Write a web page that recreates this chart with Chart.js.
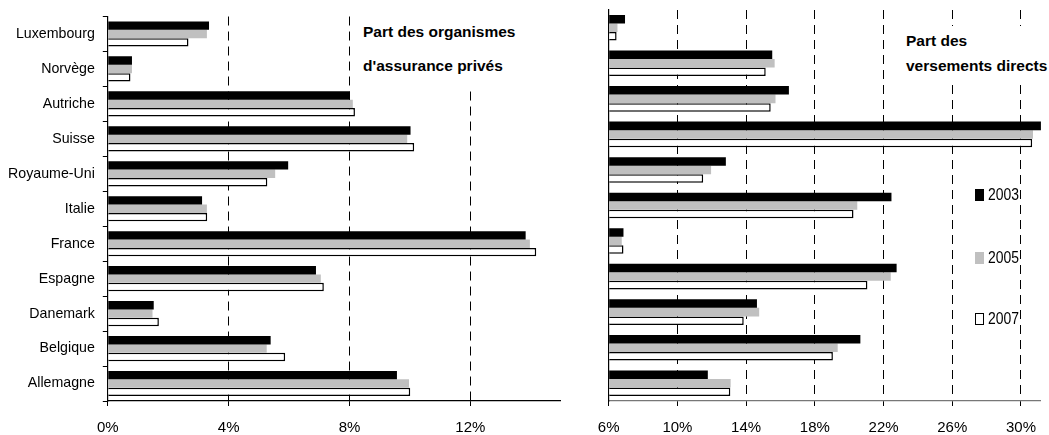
<!DOCTYPE html>
<html lang="fr">
<head>
<meta charset="utf-8">
<title>Part des organismes d'assurance privés et des versements directs</title>
<script src="https://cdn.jsdelivr.net/npm/chart.js@4/dist/chart.umd.min.js"></script>
<style>
  body { margin: 0; background: #fff; }
  #wrap {
    position: relative; width: 1049px; height: 435px; overflow: hidden;
    font-family: 'Liberation Sans', Arial, sans-serif;
  }
  #left-holder  { position: absolute; left: 0;     top: 0; }
  #right-holder { position: absolute; left: 561px; top: 0; }
  .note {
    position: absolute; background: #fff; color: #000;
    font-weight: bold; font-size: 15.5px; line-height: 18px;
  }
  .note span { position: absolute; white-space: nowrap; }
  #note-left  { left: 356px; top: 16px; width: 172px; height: 72px; }
  #note-right { left: 896px; top: 26px; width: 153px; height: 56px; }
  .leg-item {
    position: absolute; left: 975px; white-space: nowrap;
    font-size: 17px; line-height: 20px; color: #000;
  }
  .leg-item .swatch { position: absolute; left: 0; width: 9px; height: 12px; box-sizing: border-box; }
  /* the source text is a narrow face: squeeze it sideways */
  .leg-item .txt { position: absolute; left: 13px; top: 0; transform: scaleX(0.82); transform-origin: left center; }
</style>
</head>
<body>
<div id="wrap">
  <div id="left-holder"><canvas id="left-chart" width="561" height="435"></canvas></div>
  <div id="right-holder"><canvas id="right-chart" width="488" height="435"></canvas></div>

  <div class="note" id="note-left">
    <span style="left:7px; top:7px;">Part des organismes</span>
    <span style="left:7px; top:41px;">d'assurance privés</span>
  </div>
  <div class="note" id="note-right">
    <span style="left:10px; top:6px;">Part des</span>
    <span style="left:10px; top:31px;">versements directs</span>
  </div>
  <div id="legend"></div>
</div>

<script>
// — DATA —
const categories = ['Luxembourg', 'Norvège', 'Autriche', 'Suisse', 'Royaume-Uni', 'Italie',
                    'France', 'Espagne', 'Danemark', 'Belgique', 'Allemagne'];
const years = ['2003', '2005', '2007'];

// Part des organismes d'assurance privés (%)
const privateIns2003 = [3.35, 0.80, 8.01, 10.02, 5.97, 3.12, 13.83, 6.89, 1.52, 5.39, 9.57];
const privateIns2005 = [3.28, 0.80, 8.11,  9.91, 5.54, 3.28, 13.97, 7.05, 1.48, 5.26, 9.97];
const privateIns2007 = [2.67, 0.75, 8.18, 10.14, 5.28, 3.29, 14.18, 7.15, 1.69, 5.87, 10.01];

// Part des versements directs (%)
const direct2003 = [6.95, 15.52, 16.49, 31.5,  12.82, 22.46, 6.86, 22.76, 14.63, 20.65, 11.77];
const direct2005 = [6.51, 15.66, 15.71, 30.70, 11.96, 20.47, 6.76, 22.42, 14.76, 19.33, 13.10];
const direct2007 = [6.46, 15.14, 15.43, 30.65, 11.50, 20.25, 6.86, 21.06, 13.86, 19.05, 13.08];

// tick labels
const leftTicks  = [0, 4, 8, 12];
const rightTicks = [6, 10, 14, 18, 22, 26, 30];

// — STYLE —
const SANS = "'Liberation Sans', Arial, sans-serif";
const barFills = ['#000000', '#c0c0c0', '#ffffff'];

/**
 * One dataset per year; the 2007 bars are white with a black outline.
 */
function make_datasets(series, base) {
  return series.map((values, i) => ({
    label: years[i],
    data: values,
    base: base,
    backgroundColor: barFills[i],
    borderColor: '#000',
    borderWidth: i === 2 ? 1.5 : 0,
    categoryPercentage: 0.72,
    barPercentage: 1
  }));
}

/**
 * Draw one horizontal bar panel.
 */
function render_panel(canvasId, series, cfg) {
  const ctx = document.getElementById(canvasId).getContext('2d');
  return new Chart(ctx, {
    type: 'bar',
    data: { labels: categories, datasets: make_datasets(series, cfg.min) },
    options: {
      indexAxis: 'y',
      responsive: false,
      animation: false,
      layout: { padding: { top: 10, right: 0, bottom: 0, left: 0 } },
      plugins: {
        legend:  { display: false },
        tooltip: { enabled: false }
      },
      scales: {
        x: {
          min: cfg.min,
          max: cfg.max,
          afterBuildTicks: axis => { axis.ticks = cfg.ticks.map(v => ({ value: v })); },
          afterFit: axis => { axis.height = 34; },
          ticks: {
            callback: v => v + '%',
            font: { family: SANS, size: 15 },
            color: '#000',
            padding: 13,
            maxRotation: 0,
            autoSkip: false
          },
          grid: {
            color: c => c.index === 0 ? 'rgba(0,0,0,0)' : '#000',
            tickColor: '#000',
            tickLength: 5,
            lineWidth: 1
          },
          border: { display: true, color: cfg.xBorder, width: 1.2, dash: [9, 6] }
        },
        y: {
          afterFit: axis => { axis.width = cfg.yWidth; },
          ticks: {
            display: cfg.showLabels,
            font: { family: SANS, size: 14.2 },
            color: '#000',
            padding: 8
          },
          grid: {
            display: true,
            drawOnChartArea: false,
            drawTicks: cfg.showLabels,
            tickLength: 5,
            color: '#000',
            offset: true
          },
          border: { display: true, color: '#000', width: 1.2 }
        }
      }
    }
  });
}

/**
 * Legend on the right: three items stacked far apart.
 */
function render_legend() {
  const holder = document.getElementById('legend');
  const tops = [185, 248, 309];
  years.forEach((yr, i) => {
    const item = document.createElement('div');
    item.className = 'leg-item';
    item.style.top = tops[i] + 'px';
    const sw = document.createElement('span');
    sw.className = 'swatch';
    sw.style.top = '4px';
    sw.style.background = barFills[i];
    if (i === 2) sw.style.border = '1.5px solid #000';
    const tx = document.createElement('span');
    tx.className = 'txt';
    tx.textContent = yr;
    item.appendChild(sw);
    item.appendChild(tx);
    holder.appendChild(item);
  });
}

render_panel('left-chart', [privateIns2003, privateIns2005, privateIns2007], {
  min: 0, max: 15, ticks: leftTicks, yWidth: 107.8, showLabels: true, xBorder: '#000'
});
render_panel('right-chart', [direct2003, direct2005, direct2007], {
  min: 6, max: 31.16, ticks: rightTicks, yWidth: 47.7, showLabels: false, xBorder: '#777'
});
render_legend();
</script>
</body>
</html>
